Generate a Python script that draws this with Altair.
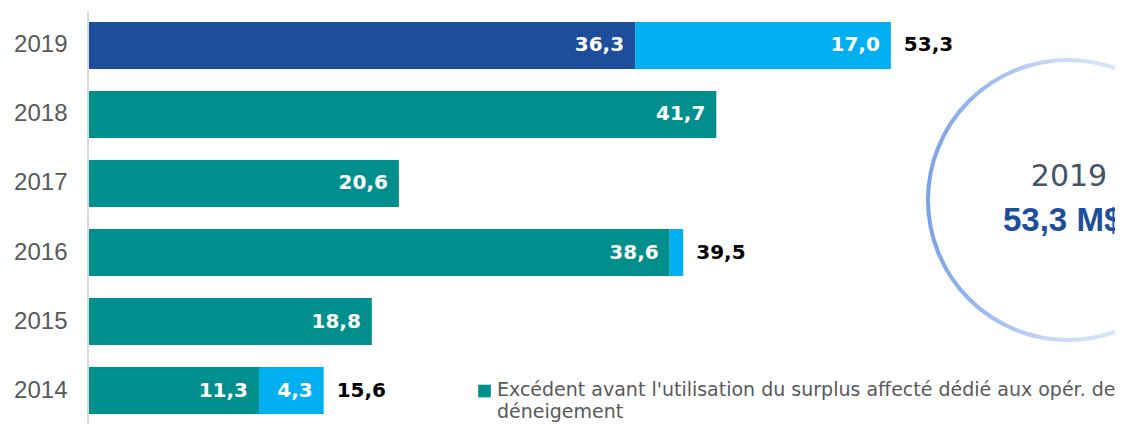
import altair as alt
import pandas as pd

# ---- data ----
years = ["2014", "2015", "2016", "2017", "2018", "2019"]
excedent = [11.3, 18.8, 38.6, 20.6, 41.7, 36.3]
surplus = [4.3, 0.0, 0.9, 0.0, 0.0, 17.0]
totals = [15.6, None, 39.5, None, None, 53.3]
series_names = ["Excédent", "Excédent 2019", "Surplus"]
series_colors = ["#008f8c", "#1d4e9b", "#00b0f0"]
legend_line1 = "Excédent avant l'utilisation du surplus affecté dédié aux opér. de"
legend_line2 = "déneigement"
circle_year = "2019"
circle_value = "53,3 M$"

def fr(v):
    return f"{v:.1f}".replace(".", ",")

rows = []
for y, e, s in zip(years, excedent, surplus):
    rows.append({"year": y, "series": "Excédent 2019" if y == "2019" else "Excédent",
                 "start": 0.0, "end": e, "value": e, "label": fr(e)})
    if s > 0:
        rows.append({"year": y, "series": "Surplus", "start": e, "end": e + s,
                     "value": s, "label": fr(s)})
seg = pd.DataFrame(rows)
tot = pd.DataFrame([{"year": y, "total": t, "label": fr(t)}
                    for y, t in zip(years, totals) if t is not None])

FONT = "Liberation Sans"
WIDE = "DejaVu Sans"
W, H = 1026, 392
order = list(reversed(years))

yenc = alt.Y("year:N", sort=order,
             scale=alt.Scale(paddingInner=0.32, paddingOuter=0),
             axis=alt.Axis(title=None, domain=False, ticks=False, tickSize=0,
                           labelPadding=22, labelFontSize=24, labelColor="#595959",
                           labelFont=FONT, grid=False))
xscale = alt.Scale(domain=[0, 68.2], nice=False, zero=True)

bars = alt.Chart(seg).mark_bar().encode(
    y=yenc,
    x=alt.X("start:Q", scale=xscale, axis=None),
    x2="end:Q",
    color=alt.Color("series:N", scale=alt.Scale(domain=series_names, range=series_colors),
                    legend=None),
)

seg_labels = alt.Chart(seg).transform_filter("datum.value >= 2").mark_text(
    align="right", baseline="middle", dx=-11, font=WIDE, fontSize=20,
    fontWeight="bold", color="white"
).encode(y=alt.Y("year:N", sort=order), x=alt.X("end:Q", scale=xscale), text="label:N")

tot_labels = alt.Chart(tot).mark_text(
    align="left", baseline="middle", dx=13, font=WIDE, fontSize=20,
    fontWeight="bold", color="black"
).encode(y=alt.Y("year:N", sort=order), x=alt.X("total:Q", scale=xscale), text="label:N")

one = pd.DataFrame({"k": [0]})

axis_line = alt.Chart(one).mark_rule(color="#d9d9d9", strokeWidth=2).encode(
    x=alt.value(-1), y=alt.value(-11), y2=alt.value(H + 20))

grad = alt.LinearGradient(
    gradient="linear", x1=0, y1=0.5, x2=1, y2=0.5,
    stops=[alt.GradientStop(offset=0, color="#7aa2e6"),
           alt.GradientStop(offset=0.45, color="#c9daf5"),
           alt.GradientStop(offset=1, color="#eef3fc")])
circle = alt.Chart(one).mark_point(shape="circle", filled=False, strokeWidth=4,
                                   stroke=grad, opacity=1).encode(
    x=alt.value(979), y=alt.value(178), size=alt.value(280 * 280))

c_year = alt.Chart(one).mark_text(font=WIDE, fontSize=30, color="#44546a",
                                  align="center", baseline="middle").encode(
    x=alt.value(980), y=alt.value(155), text=alt.value(circle_year))
c_val = alt.Chart(one).mark_text(font=FONT, fontSize=33, fontWeight="bold",
                                 color="#1d4e9b", align="left", baseline="middle").encode(
    x=alt.value(914), y=alt.value(199), text=alt.value(circle_value))

leg_sq = alt.Chart(one).mark_point(shape="square", filled=True, opacity=1,
                                   color="#008f8c").encode(
    x=alt.value(395.5), y=alt.value(369), size=alt.value(160))
leg_t1 = alt.Chart(one).mark_text(font=WIDE, fontSize=19, color="#595959",
                                  align="left", baseline="middle").encode(
    x=alt.value(408), y=alt.value(368), text=alt.value(legend_line1))
leg_t2 = alt.Chart(one).mark_text(font=WIDE, fontSize=19, color="#595959",
                                  align="left", baseline="middle").encode(
    x=alt.value(408), y=alt.value(390), text=alt.value(legend_line2))

chart = alt.layer(circle, axis_line, bars, seg_labels, tot_labels, c_year, c_val,
                  leg_sq, leg_t1, leg_t2).properties(
    width=W, height=H,
    autosize=alt.AutoSizeParams(type="none"),
    padding={"left": 81, "top": 14, "right": 0, "bottom": 10},
).configure(background="white").configure_view(stroke=None)

chart.save("out.html", embed_options={"renderer": "svg", "actions": False})
